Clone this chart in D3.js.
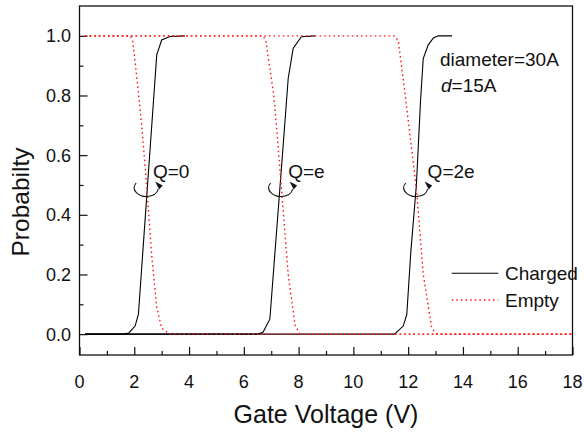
<!DOCTYPE html>
<html>
<head>
<meta charset="utf-8">
<script src="https://cdn.jsdelivr.net/npm/d3@7"></script>
<style>
  html, body { margin: 0; padding: 0; background: #fff; }
  svg { display: block; font-family: "Liberation Sans", Arial, sans-serif; }
</style>
</head>
<body>
<svg id="chart" width="584" height="436"></svg>
<script>
// Occupation probability of the dot vs. gate voltage, one step per added charge.
const xTicks = [0, 2, 4, 6, 8, 10, 12, 14, 16, 18];
const yTicks = [0.0, 0.2, 0.4, 0.6, 0.8, 1.0];

// "Charged" curves (rising), one per transition
const chargedQ0 = [[0.2,0],[1.6,0],[1.8,0.004],[2.03,0.027],[2.15,0.066],[2.3,0.26],[2.5,0.52],[2.7,0.78],[2.82,0.936],[3.0,0.986],[3.3,0.998],[3.85,1]];
const chargedQe = [[0.2,0],[6.5,0],[6.7,0.006],[6.95,0.05],[7.1,0.23],[7.3,0.47],[7.45,0.65],[7.62,0.857],[7.8,0.958],[8.1,0.997],[8.6,1]];
const chargedQ2e = [[0.2,0],[11.5,0],[11.82,0.027],[11.95,0.066],[12.1,0.28],[12.3,0.5],[12.45,0.78],[12.55,0.924],[12.73,0.969],[12.92,0.993],[13.1,1],[13.6,1]];

// "Empty" curves (falling), one per transition
const emptyQ0 = [[0.2,1],[1.85,1],[1.95,0.98],[2.15,0.81],[2.27,0.70],[2.45,0.5],[2.64,0.26],[2.82,0.09],[3.0,0.02],[3.3,0],[18,0]];
const emptyQe = [[0.2,1],[6.7,1],[6.8,0.985],[7.08,0.81],[7.2,0.69],[7.38,0.48],[7.62,0.2],[7.87,0.03],[8.05,0],[18,0]];
const emptyQ2e = [[0.2,1],[11.5,1],[11.64,0.983],[11.88,0.81],[12.05,0.68],[12.31,0.478],[12.55,0.2],[12.86,0.02],[13.04,0],[18,0]];

// Charge-state labels with the voltage where the curves cross
const chargeLabels = ["Q=0", "Q=e", "Q=2e"];
const crossingV = [2.47, 7.38, 12.31];
const labelV = [2.68, 7.62, 12.71];

const svg = d3.select("#chart");
const mLeft = 79.5, mRight = 572.5, mTop = 6, mBottom = 355;

const x = d3.scaleLinear().domain([0, 18]).range([mLeft, mRight]);
const y = d3.scaleLinear().domain([-0.07, 1.1]).range([mBottom, mTop]);

const ink = "#111";

// Axes with inward ticks (major + minor)
const xMinor = d3.range(0, 19, 1).filter(v => v % 2 !== 0);
const yMinor = [0.1, 0.3, 0.5, 0.7, 0.9];

function tickGroup(axis, pos) {
  return svg.append("g").attr("transform", pos).call(axis)
    .call(g => g.select(".domain").remove())
    .call(g => g.selectAll("line").attr("stroke", ink).attr("stroke-width", 1.2));
}

// bottom axis
tickGroup(d3.axisTop(x).tickValues(xTicks).tickSize(8).tickFormat(""), `translate(0,${mBottom})`);
tickGroup(d3.axisTop(x).tickValues(xMinor).tickSize(4).tickFormat(""), `translate(0,${mBottom})`);
// left axis
tickGroup(d3.axisRight(y).tickValues(yTicks).tickSize(8).tickFormat(""), `translate(${mLeft},0)`);
tickGroup(d3.axisRight(y).tickValues(yMinor).tickSize(4).tickFormat(""), `translate(${mLeft},0)`);

// tick labels
svg.append("g").selectAll("text").data(xTicks).join("text")
  .attr("x", d => x(d)).attr("y", 388)
  .attr("text-anchor", "middle").attr("font-size", 18).attr("fill", ink)
  .text(d => d3.format("d")(d));
svg.append("g").selectAll("text").data(yTicks).join("text")
  .attr("x", 71).attr("y", d => y(d)).attr("dy", "0.36em")
  .attr("text-anchor", "end").attr("font-size", 18).attr("fill", ink)
  .text(d => d3.format(".1f")(d));

// axis titles
svg.append("text").attr("x", 326).attr("y", 423).attr("text-anchor", "middle")
  .attr("font-size", 25).attr("fill", ink).text("Gate Voltage (V)");
svg.append("text").attr("transform", "translate(29,202) rotate(-90)")
  .attr("text-anchor", "middle").attr("font-size", 24.5).attr("fill", ink).text("Probabilty");

// curves
const line = d3.line().x(d => x(d[0])).y(d => y(d[1]));
const plot = svg.append("g");
[chargedQ0, chargedQe, chargedQ2e].forEach(s => {
  plot.append("path").datum(s).attr("d", line)
    .attr("fill", "none").attr("stroke", "#000").attr("stroke-width", 1.1);
});
[emptyQ0, emptyQe, emptyQ2e].forEach(s => {
  plot.append("path").datum(s).attr("d", line)
    .attr("fill", "none").attr("stroke", "#ff1a1a").attr("stroke-width", 1.4)
    .attr("stroke-dasharray", "1.6,3");
});

// curl arrows marking each crossing, with their charge labels
crossingV.forEach((v, i) => {
  const cx = x(v), cy = 190;
  svg.append("path")
    .attr("d", `M${cx - 11},${cy - 7} C${cx - 17},${cy} ${cx - 8},${cy + 7} ${cx},${cy + 6.5} C${cx + 6},${cy + 6} ${cx + 10},${cy + 4} ${cx + 11},${cy - 1}`)
    .attr("fill", "none").attr("stroke", ink).attr("stroke-width", 1.1);
  svg.append("path")
    .attr("d", `M${cx + 8},${cy - 8.5} L${cx + 15.5},${cy - 4.5} L${cx + 12},${cy - 0.5} Z`)
    .attr("fill", ink);
  svg.append("text").attr("x", x(labelV[i])).attr("y", 178.3)
    .attr("font-size", 19).attr("fill", ink).text(chargeLabels[i]);
});

// parameters
svg.append("text").attr("x", 440).attr("y", 66).attr("font-size", 19).attr("fill", ink).text("diameter=30A");
const p = svg.append("text").attr("x", 441).attr("y", 92).attr("font-size", 19).attr("fill", ink);
p.append("tspan").attr("font-style", "italic").text("d");
p.append("tspan").text("=15A");

// legend
const legend = [["Charged", "#000", null, 1.1], ["Empty", "#ff1a1a", "1.6,3", 1.4]];
legend.forEach(([name, col, dash, w], i) => {
  const ly = 273.3 + i * 26.7;
  svg.append("line").attr("x1", 451.7).attr("x2", 498.3).attr("y1", ly).attr("y2", ly)
    .attr("stroke", col).attr("stroke-width", w).attr("stroke-dasharray", dash);
  svg.append("text").attr("x", 505).attr("y", ly + 6.5).attr("font-size", 19).attr("fill", ink).text(name);
});

// frame
svg.append("rect").attr("x", mLeft).attr("y", mTop).attr("width", mRight - mLeft).attr("height", mBottom - mTop)
  .attr("fill", "none").attr("stroke", ink).attr("stroke-width", 1.3);
</script>
</body>
</html>
